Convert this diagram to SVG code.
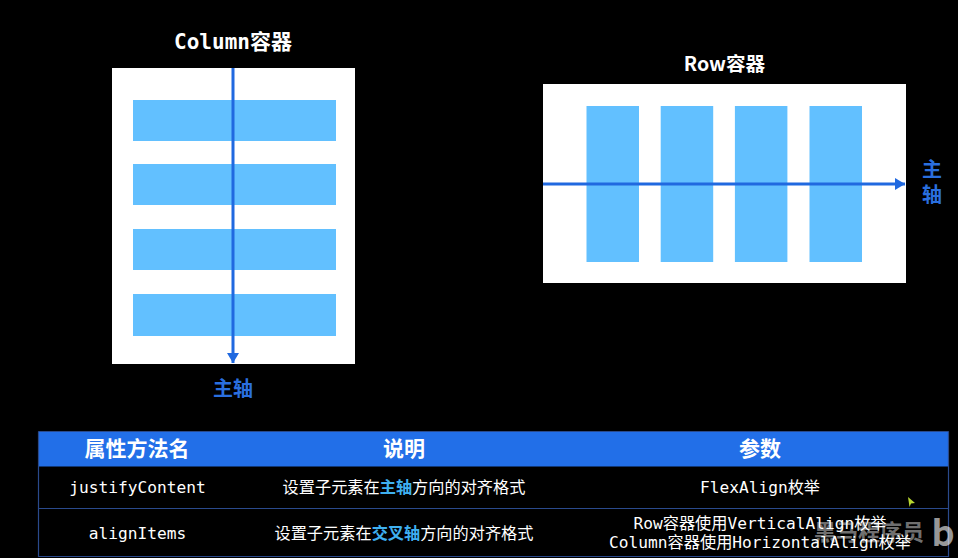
<svg xmlns="http://www.w3.org/2000/svg" width="958" height="558" viewBox="0 0 958 558">
<style>
.cjk{font-family:"Noto Sans CJK SC","Noto Sans",sans-serif}
.mono{font-family:"DejaVu Sans Mono","Noto Sans CJK SC",monospace}
text{text-anchor:middle}
.item{fill:#62c0ff}
.panel{fill:#fff}
.axis{stroke:#2069e0;stroke-width:3;fill:none}
.head{fill:#fff;font-size:21px;font-weight:700}
.cell{fill:#fff;font-size:16.2px}
.hl{fill:#3fb0f0;font-weight:700}
.ax{fill:#2a6fdf;font-size:20px;font-weight:700}
.grid{stroke:#2a4a8c;stroke-width:1.2;fill:none}
</style>
<defs>
<marker id="arrow" markerUnits="userSpaceOnUse" markerWidth="12" markerHeight="12" refX="10" refY="6" orient="auto"><path d="M0 0L10 6L0 12Z" fill="#2069e0"/></marker>
</defs>
<rect width="958" height="558" fill="#000"/>
<g id="column-container">
<text class="mono head" x="233" y="49">Column容器</text>
<rect class="panel" x="112" y="68" width="243" height="296"/>
<rect class="item" x="133" y="100" width="203" height="41"/>
<rect class="item" x="133" y="164" width="203" height="41"/>
<rect class="item" x="133" y="229" width="203" height="41"/>
<rect class="item" x="133" y="294" width="203" height="42"/>
<text class="cjk ax" x="233" y="396">主轴</text>
</g>
<g id="row-container">
<text class="cjk head" x="724.500" y="71" style="font-size:19.6px">Row容器</text>
<rect class="panel" x="543" y="84" width="363" height="199"/>
<rect class="item" x="586.500" y="106" width="52.500" height="156"/>
<rect class="item" x="660.700" y="106" width="52.500" height="156"/>
<rect class="item" x="734.900" y="106" width="52.500" height="156"/>
<rect class="item" x="809.500" y="106" width="52.500" height="156"/>
<text class="cjk ax"><tspan x="932" y="177">主</tspan><tspan x="932" y="202">轴</tspan></text>
</g>
<g id="connectors">
<path class="axis" d="M233 68V363" marker-end="url(#arrow)"/>
<path class="axis" d="M543 184H905" marker-end="url(#arrow)"/>
</g>
<g id="table">
<rect x="38.500" y="431.500" width="910" height="35" fill="#226fe8"/>
<path class="grid" d="M38.500 431.500V556.500H948.500V431.500M38.500 508.500H948.500M38.500 431.500H948.500"/>
<text class="cjk head" x="137" y="455.500">属性方法名</text>
<text class="cjk head" x="404" y="455.500">说明</text>
<text class="cjk head" x="760" y="455.500">参数</text>
<text class="mono cell" x="137.500" y="492.500">justifyContent</text>
<text class="cjk cell" x="404" y="492.500">设置子元素在<tspan class="hl">主轴</tspan>方向的对齐格式</text>
<text class="mono cell" x="760" y="492.500">FlexAlign枚举</text>
<text class="mono cell" x="137.500" y="538.500">alignItems</text>
<text class="cjk cell" x="404" y="538.500">设置子元素在<tspan class="hl">交叉轴</tspan>方向的对齐格式</text>
<text class="mono cell" x="760" y="528.500">Row容器使用VerticalAlign枚举</text>
<text class="mono cell" x="760" y="548">Column容器使用HorizontalAlign枚举</text>
</g>
<g id="overlay">
<path d="M908 497L915 503L911 503.500L909.500 507Z" fill="#b8d630"/>
<text class="cjk" x="869" y="540" fill="#fff" fill-opacity=".45" font-size="22" font-weight="700">黑马程序员</text>
<text class="cjk" x="943" y="546" fill="#fff" fill-opacity=".6" font-size="36" font-weight="700">b</text>
</g>
</svg>
